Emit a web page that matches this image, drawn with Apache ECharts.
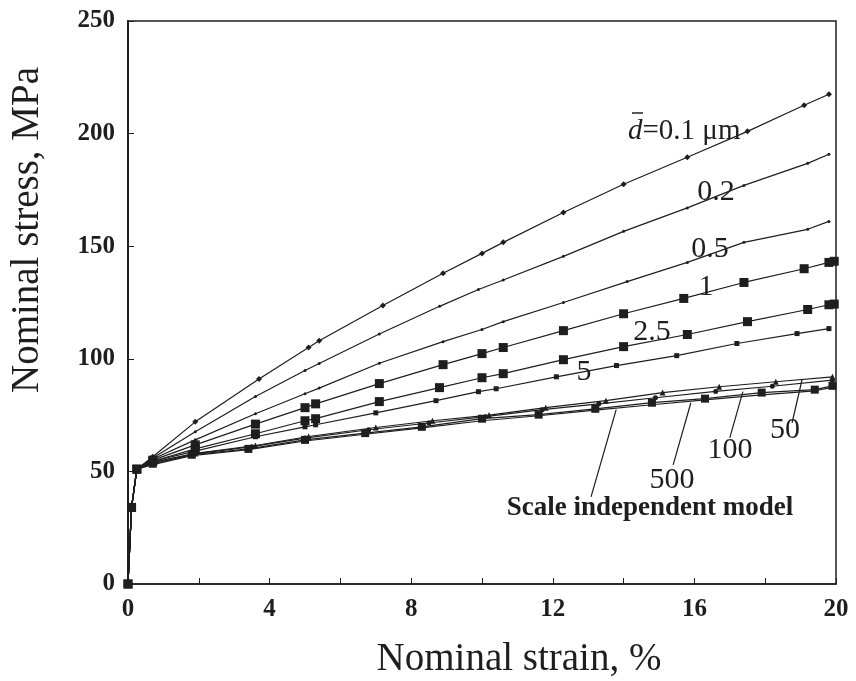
<!DOCTYPE html>
<html>
<head>
<meta charset="utf-8">
<script src="https://cdn.jsdelivr.net/npm/echarts@6/dist/echarts.min.js"></script>
<style>
  html, body { margin: 0; padding: 0; background: #fff; }
  #chart { width: 856px; height: 681px; }
</style>
</head>
<body>
<div id="chart"></div>
<script>
// 数据: 各晶粒尺寸下的名义应力-应变曲线
var xTicks = [0, 4, 8, 12, 16, 20];
var yTicks = [0, 50, 100, 150, 200, 250];

var d01X = [0, 0.1, 0.25, 0.7, 1.9, 3.7, 5.1, 5.4, 7.2, 8.9, 10.0, 10.6, 12.3, 14.0, 15.8, 17.5, 19.1, 19.8];
var d01Y = [0, 34, 51, 56.5, 72, 91, 105, 108, 123.7, 138, 146.8, 151.7, 165, 177.5, 189.5, 201, 212.6, 217.5];

var d02X = [0, 0.1, 0.25, 0.7, 1.9, 3.6, 5.0, 5.4, 7.1, 8.8, 9.9, 10.6, 12.3, 14.0, 15.8, 17.4, 19.2, 19.8];
var d02Y = [0, 34, 51, 56, 67.6, 83.3, 94.8, 97.9, 111, 123.3, 130.8, 135, 145.5, 156.6, 167, 177, 186.8, 190.8];

var d05X = [0, 0.1, 0.25, 0.7, 1.9, 3.6, 5.0, 5.4, 7.1, 8.9, 10.0, 10.6, 12.3, 14.1, 15.8, 17.4, 19.2, 19.8];
var d05Y = [0, 34, 51, 55.5, 64, 75.6, 84.5, 87, 98, 107.6, 113, 116.5, 125, 134.3, 142.8, 151.7, 157.5, 161];

var d1X = [0, 0.1, 0.25, 0.7, 1.9, 3.6, 5.0, 5.3, 7.1, 8.9, 10.0, 10.6, 12.3, 14.0, 15.7, 17.4, 19.1, 19.8, 19.95];
var d1Y = [0, 34, 51, 55, 61.8, 71, 78.3, 80, 89, 97.4, 102.3, 105, 112.5, 120, 126.8, 133.9, 140, 142.8, 143.3];

var d25X = [0, 0.1, 0.25, 0.7, 1.9, 3.6, 5.0, 5.3, 7.1, 8.8, 10.0, 10.6, 12.3, 14.0, 15.8, 17.5, 19.2, 19.8, 19.95];
var d25Y = [0, 34, 51, 54.5, 60, 66.7, 72.5, 73.4, 81, 87.2, 91.6, 93.4, 99.6, 105.4, 110.8, 116.5, 121.9, 124, 124.3];

var d5X = [0, 0.1, 0.25, 0.7, 1.9, 3.6, 5.0, 5.3, 7.0, 8.7, 9.9, 10.4, 12.1, 13.8, 15.5, 17.2, 18.9, 19.8];
var d5Y = [0, 34, 51, 54.5, 59, 65.4, 69.8, 70.7, 76, 81.4, 85.4, 86.7, 92, 97, 101.4, 106.8, 111.2, 113.4];

var d50X = [0, 0.1, 0.25, 0.7, 1.9, 3.6, 5.1, 7.0, 8.6, 10.2, 11.8, 13.5, 15.1, 16.7, 18.3, 19.9];
var d50Y = [0, 34, 51, 54, 58, 61.5, 65.5, 69.5, 72.5, 75, 78.3, 81.4, 85, 87.6, 89.8, 92];

var d100X = [0, 0.1, 0.25, 0.7, 1.9, 3.5, 5.0, 6.8, 8.5, 10.1, 11.7, 13.3, 14.9, 16.6, 18.2, 19.9];
var d100Y = [0, 34, 51, 54, 57.8, 61, 64.8, 68.5, 71.5, 74.3, 77.4, 80, 82.7, 85.5, 87.8, 90.5];

var d500X = [0, 0.1, 0.25, 0.7, 1.8, 3.4, 5.0, 6.7, 8.3, 10.0, 11.6, 13.2, 14.8, 16.3, 17.9, 19.4, 19.9];
var d500Y = [0, 34, 51, 53.4, 57.4, 60, 64, 67, 69.8, 73.4, 75.2, 77.8, 80.5, 82.3, 85, 86.3, 88];

var siX = [0, 0.1, 0.25, 0.7, 1.8, 3.4, 5.0, 6.7, 8.3, 10.0, 11.6, 13.2, 14.8, 16.3, 17.9, 19.4, 19.9];
var siY = [0, 34, 51, 53, 57, 59.7, 63.5, 66.5, 69.3, 72.5, 74.7, 77.2, 79.6, 81.8, 84, 85.8, 87.3];

// 引线 (数据坐标)
var leaders = [
  [[18.76, 71.6], [19.04, 90.7]],
  [[17.0, 64.9], [17.37, 85.4]],
  [[15.4, 52.9], [15.9, 80.5]],
  [[13.08, 38.7], [13.79, 77.4]]
];

var ink = "#1e1e1e";
var serif = "'Liberation Serif', 'DejaVu Serif', serif";

function pairs(xs, ys) {
  return xs.map(function (x, i) { return [x, ys[i]]; });
}

function curve(name, xs, ys, symbol, size) {
  return {
    name: name,
    type: "line",
    data: pairs(xs, ys),
    symbol: symbol,
    symbolSize: size,
    showSymbol: symbol !== "none",
    itemStyle: { color: ink },
    lineStyle: { color: ink, width: 1.2 },
    animation: false,
    z: 3
  };
}

var chart = echarts.init(document.getElementById("chart"));

var siSeries = curve("Scale independent model", siX, siY, "none", 0);
siSeries.markLine = {
  silent: true,
  symbol: "none",
  animation: false,
  label: { show: false },
  lineStyle: { color: ink, width: 1.2, type: "solid" },
  data: leaders.map(function (l) {
    return [{ coord: l[0] }, { coord: l[1] }];
  })
};

function txt(x, y, s, size, extra) {
  var style = {
    text: s,
    x: x,
    y: y,
    font: (extra && extra.bold ? "bold " : "") + size + "px " + serif,
    fill: ink,
    align: (extra && extra.align) || "center",
    verticalAlign: "middle"
  };
  return { type: "text", style: style, z: 10 };
}

chart.setOption({
  backgroundColor: "#fff",
  animation: false,
  grid: {
    left: 128,
    top: 21,
    right: 20,
    bottom: 97,
    show: true,
    borderColor: ink,
    borderWidth: 1.5
  },
  xAxis: {
    type: "value",
    min: 0,
    max: 20,
    interval: 4,
    axisLine: { show: true, onZero: false, lineStyle: { color: ink, width: 1.5 } },
    axisTick: { show: true, inside: true, length: 6, lineStyle: { color: ink } },
    minorTick: { show: true, splitNumber: 2, length: 6, lineStyle: { color: ink } },
    splitLine: { show: false },
    axisLabel: {
      color: ink,
      fontFamily: serif,
      fontWeight: "bold",
      fontSize: 25,
      margin: 13,
      formatter: function (v) { return xTicks.indexOf(v) >= 0 ? String(v) : ""; }
    }
  },
  yAxis: {
    type: "value",
    min: 0,
    max: 250,
    interval: 50,
    axisLine: { show: true, onZero: false, lineStyle: { color: ink, width: 2 } },
    axisTick: { show: true, inside: true, length: 6, lineStyle: { color: ink } },
    splitLine: { show: false },
    axisLabel: {
      color: ink,
      fontFamily: serif,
      fontWeight: "bold",
      fontSize: 25,
      margin: 13,
      formatter: function (v) { return yTicks.indexOf(v) >= 0 ? String(v) : ""; }
    }
  },
  series: [
    curve("0.1", d01X, d01Y, "diamond", 6),
    curve("0.2", d02X, d02Y, "circle", 3),
    curve("0.5", d05X, d05Y, "circle", 3),
    curve("1", d1X, d1Y, "rect", 9),
    curve("2.5", d25X, d25Y, "rect", 9),
    curve("5", d5X, d5Y, "rect", 5),
    curve("50", d50X, d50Y, "triangle", 6),
    curve("100", d100X, d100Y, "circle", 5),
    curve("500", d500X, d500Y, "rect", 8),
    siSeries
  ],
  graphic: [
    // 坐标轴标题
    txt(519, 660, "Nominal strain, %", 39),
    {
      type: "text",
      x: 28,
      y: 230,
      rotation: Math.PI / 2,
      style: {
        text: "Nominal stress, MPa",
        font: "39px " + serif,
        fill: ink,
        align: "center",
        verticalAlign: "middle"
      },
      z: 10
    },
    // 曲线标注
    {
      type: "text",
      style: {
        text: "{i|d}=0.1 μm",
        x: 628,
        y: 131,
        font: "29px " + serif,
        fill: ink,
        align: "left",
        verticalAlign: "middle",
        rich: { i: { fontStyle: "italic", fontSize: 29, fontFamily: serif, fill: ink } }
      },
      z: 10
    },
    {
      type: "line",
      shape: { x1: 632, y1: 113, x2: 643, y2: 113 },
      style: { stroke: ink, lineWidth: 1.5 },
      z: 10
    },
    txt(716, 192, "0.2", 30),
    txt(710, 249, "0.5", 30),
    txt(706, 287, "1", 30),
    txt(652, 332, "2.5", 30),
    txt(584, 372, "5", 30),
    txt(785, 430, "50", 30),
    txt(730, 450, "100", 30),
    txt(672, 480, "500", 30),
    txt(650, 508, "Scale independent model", 27, { bold: true })
  ]
});
</script>
</body>
</html>
